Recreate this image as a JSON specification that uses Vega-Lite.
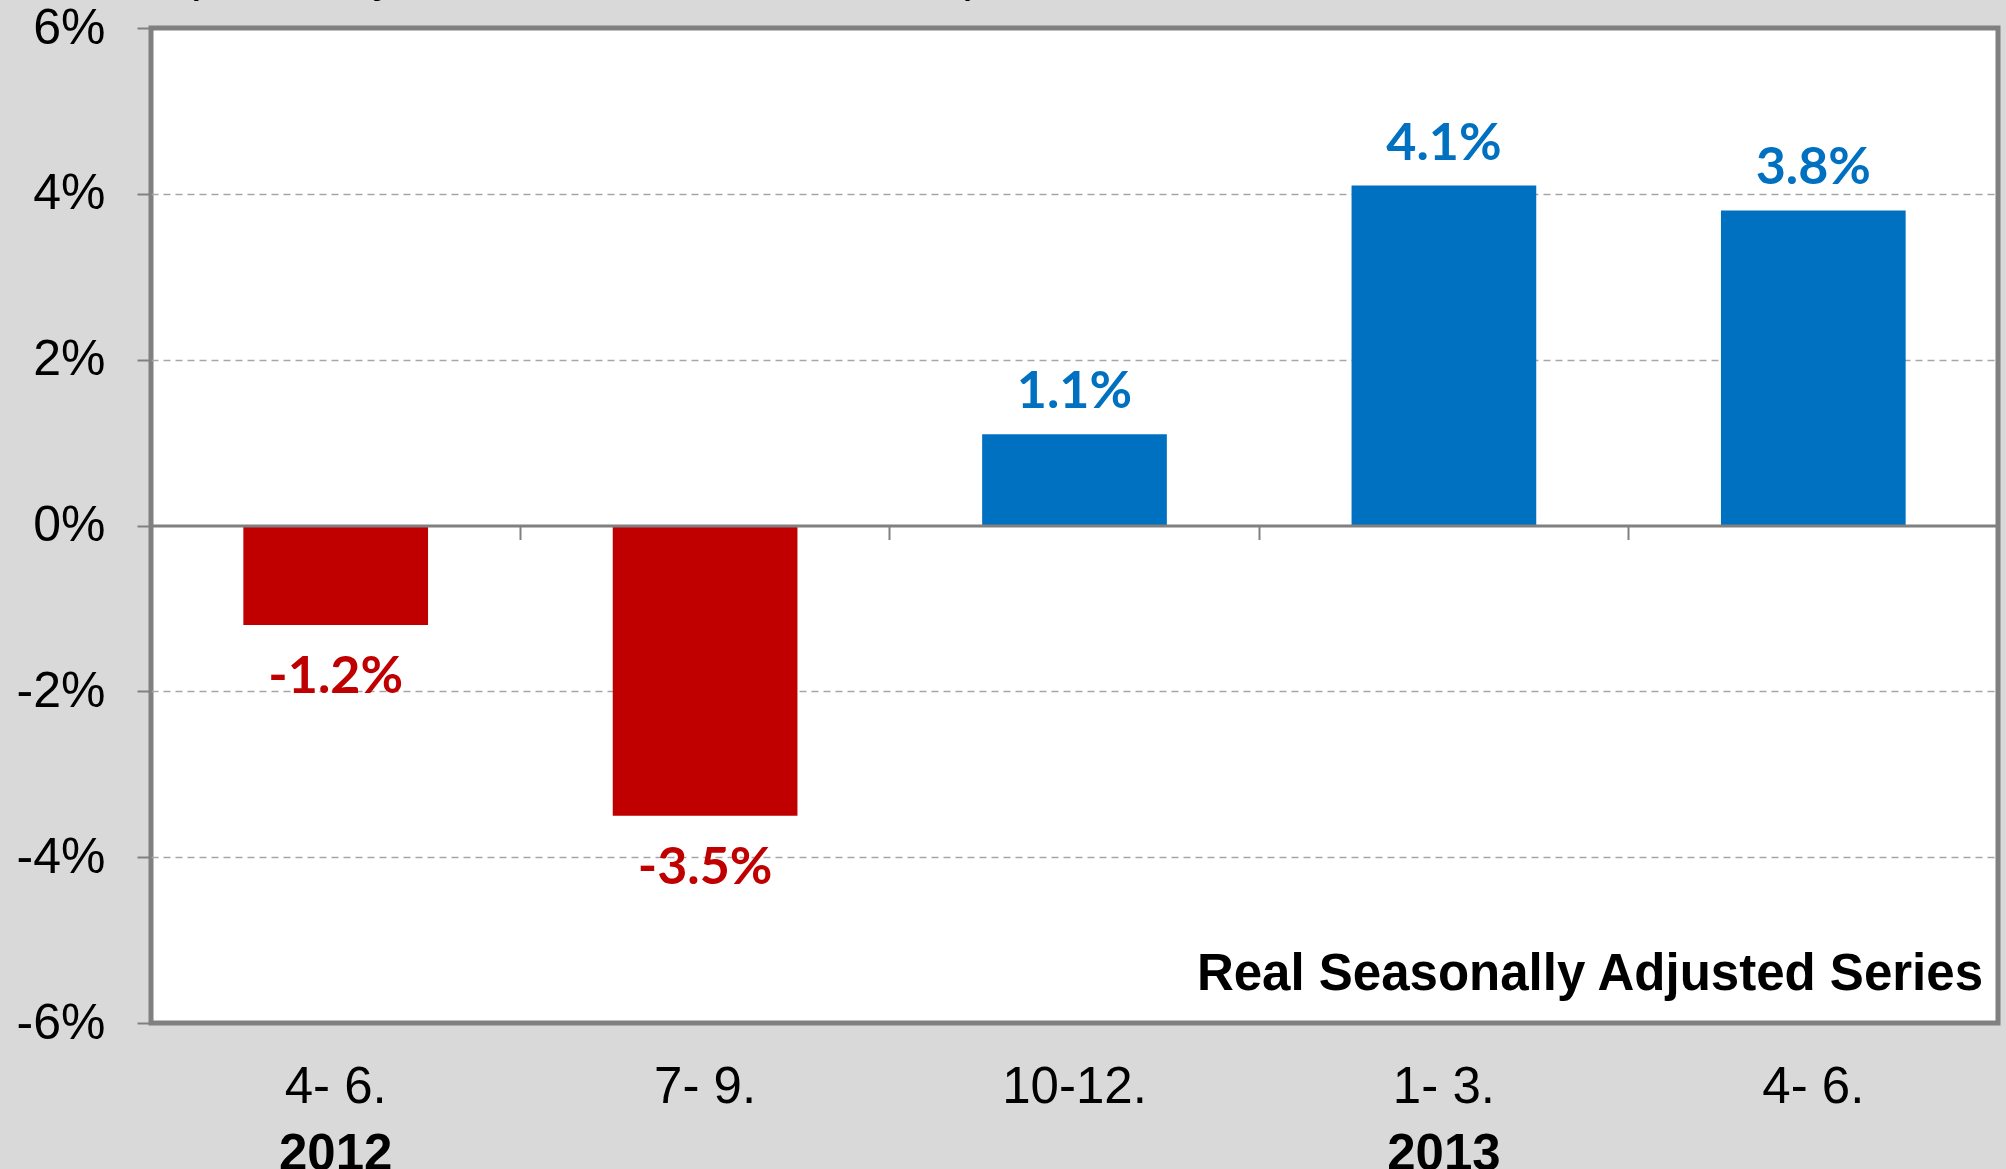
{
  "$schema": "https://vega.github.io/schema/vega-lite/v6.json",
  "width": 1847,
  "height": 995,
  "autosize": {"type": "none"},
  "padding": {"left": 151, "top": 28, "right": 8, "bottom": 146},
  "background": "#d9d9d9",
  "config": {
    "view": {"fill": "#ffffff", "stroke": "#808080", "strokeWidth": 5},
    "axis": {"labelFont": "Liberation Sans", "labelColor": "#000000"}
  },
  "data": {
    "values": [
      {"q": "2012 4- 6.", "value": -1.2, "label": "-1.2%"},
      {"q": "2012 7- 9.", "value": -3.5, "label": "-3.5%"},
      {"q": "2012 10-12.", "value": 1.1, "label": "1.1%"},
      {"q": "2013 1- 3.", "value": 4.1, "label": "4.1%"},
      {"q": "2013 4- 6.", "value": 3.8, "label": "3.8%"}
    ]
  },
  "layer": [
    {
      "mark": {"type": "bar"},
      "encoding": {
        "x": {
          "field": "q",
          "type": "nominal",
          "scale": {
            "type": "band",
            "domain": ["2012 4- 6.", "2012 7- 9.", "2012 10-12.", "2013 1- 3.", "2013 4- 6."],
            "paddingInner": 0.5,
            "paddingOuter": 0.25
          },
          "axis": {
            "orient": "bottom",
            "title": null,
            "ticks": false,
            "domain": false,
            "grid": false,
            "labelPadding": 39,
            "labelFontSize": 51,
            "labelAngle": 0,
            "labelExpr": "slice(datum.value, 5)"
          }
        },
        "y": {
          "field": "value",
          "type": "quantitative",
          "scale": {"domain": [-6, 6], "nice": false},
          "axis": {
            "title": null,
            "values": [-6, -4, -2, 0, 2, 4, 6],
            "labelExpr": "datum.value + '%'",
            "labelFontSize": 50,
            "labelPadding": 32,
            "tickSize": 14,
            "tickColor": "#808080",
            "tickWidth": 2,
            "domain": false,
            "grid": true,
            "gridColor": "#a6a6a6",
            "gridWidth": 1.5,
            "gridDash": [7, 5],
            "gridOpacity": {"condition": {"test": "datum.value == 0 || abs(datum.value) == 6", "value": 0}, "value": 1}
          }
        },
        "color": {"condition": {"test": "datum.value < 0", "value": "#C00000"}, "value": "#0070C0"}
      }
    },
    {
      "transform": [{"filter": "datum.value > 0"}],
      "mark": {"type": "text", "baseline": "alphabetic", "align": "center", "dy": -26, "font": "Lato", "fontSize": 52, "fontWeight": "bold"},
      "encoding": {
        "x": {
          "field": "q",
          "type": "nominal",
          "axis": {
            "orient": "bottom",
            "title": null,
            "ticks": false,
            "domain": false,
            "grid": false,
            "labelPadding": 106,
            "labelFontSize": 51,
            "labelFontWeight": "bold",
            "labelAngle": 0,
            "labelExpr": "indexof(datum.value, '2012 4') == 0 || indexof(datum.value, '2013 1') == 0 ? slice(datum.value, 0, 4) : ''"
          }
        },
        "y": {"field": "value", "type": "quantitative", "axis": null},
        "text": {"field": "label"},
        "color": {"condition": {"test": "datum.value < 0", "value": "#C00000"}, "value": "#0070C0"}
      }
    },
    {
      "transform": [{"filter": "datum.value < 0"}],
      "mark": {"type": "text", "baseline": "alphabetic", "align": "center", "dy": 68, "font": "Lato", "fontSize": 52, "fontWeight": "bold"},
      "encoding": {
        "x": {
          "field": "q",
          "type": "nominal",
          "axis": {
            "orient": "bottom",
            "offset": -497.5,
            "title": null,
            "labels": false,
            "ticks": true,
            "tickSize": 14,
            "tickColor": "#808080",
            "tickWidth": 2,
            "bandPosition": -0.5,
            "domain": true,
            "domainColor": "#808080",
            "domainWidth": 3,
            "grid": false,
            "zindex": 1
          }
        },
        "y": {"field": "value", "type": "quantitative", "axis": null},
        "text": {"field": "label"},
        "color": {"condition": {"test": "datum.value < 0", "value": "#C00000"}, "value": "#0070C0"}
      }
    },
    {
      "data": {"values": [{"note": "Real Seasonally Adjusted Series", "pos": -5.6}]},
      "mark": {"type": "text", "x": "width", "dx": -15, "align": "right", "baseline": "alphabetic", "font": "Liberation Sans", "fontSize": 51, "fontWeight": "bold", "color": "#000000"},
      "encoding": {
        "y": {"field": "pos", "type": "quantitative", "axis": null},
        "text": {"field": "note"}
      }
    },
    {
      "data": {"values": [{"note": "(Quarterly Growth Rates, Annualized)", "pos": 6.45}]},
      "mark": {"type": "text", "x": 0, "dx": 32, "align": "left", "baseline": "alphabetic", "font": "Liberation Sans", "fontSize": 48, "fontWeight": "normal", "color": "#000000"},
      "encoding": {
        "y": {"field": "pos", "type": "quantitative", "axis": null},
        "text": {"field": "note"}
      }
    }
  ],
  "resolve": {"axis": {"x": "independent", "y": "independent"}}
}
